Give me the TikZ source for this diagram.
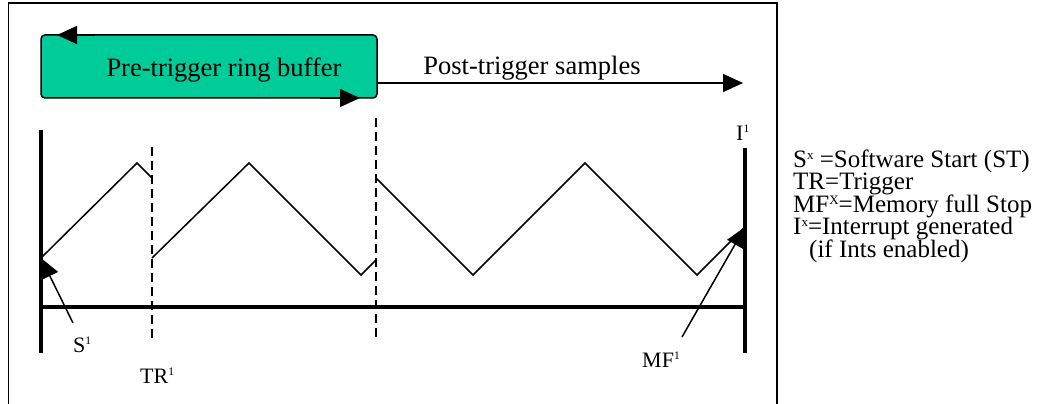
\documentclass[tikz,border=0pt]{standalone}
\usepackage{fontspec}
\setmainfont{Liberation Serif}
\usetikzlibrary{arrows.meta}
\definecolor{buffergreen}{RGB}{0,204,153}

% small raised index, as in S1, TR1, MFX
\newcommand{\evsup}[1]{\raisebox{0.32em}{\scalebox{0.52}{#1}}}
% legend lines sit closer than the font asks for
\newcommand{\legendfont}{\fontsize{25}{22.5}\selectfont\lineskiplimit=-8pt\relax}

\tikzset{
  tip/.style={-{Triangle[length=20pt,width=18pt]}},
  thinline/.style={line width=1.5pt},
  thickline/.style={line width=4pt},
  marker/.style={line width=1.5pt, dash pattern=on 9pt off 5pt},
  lbl/.style={inner sep=0pt, anchor=base west, font=\fontsize{22}{24}\selectfont},
  legend/.style={inner sep=0pt, align=left, anchor=north west, font=\legendfont},
}

\begin{document}
\begin{tikzpicture}[x=1pt,y=-1pt]
    \useasboundingbox (0,0) rectangle (1053,404);

    % Frame, open at the bottom
    \draw[thinline] (8.5,404) -- (8.5,3) -- (777,3) -- (777,404);

    % Pre-trigger ring buffer
    \node[draw, thinline, fill=buffergreen, rounded corners=4pt, inner sep=0pt,
          minimum width=336pt, minimum height=63pt] (ring) at (209,66.5) {};
    \node[inner sep=0pt, anchor=base, font=\fontsize{26.5}{28}\selectfont] (ringtxt) at (224,77) {Pre-trigger ring buffer};
    \coordinate (ringtopA) at (95,35);
    \coordinate (ringtopB) at (57,35);
    \coordinate (ringbotA) at (320,98);
    \coordinate (ringbotB) at (360,98);
    \draw[thinline, tip] (ringtopA) -- (ringtopB);
    \draw[thinline, tip] (ringbotA) -- (ringbotB);

    % Post-trigger samples
    \coordinate (poststart) at (377,83);
    \coordinate (postend) at (743,83);
    \draw[thinline, tip] (poststart) -- (postend);
    \node[inner sep=0pt, anchor=base, font=\fontsize{26.5}{28}\selectfont] (posttxt) at (532,75) {Post-trigger samples};

    % Time axis and start / stop bars
    \coordinate (startTop) at (41,130);
    \coordinate (startBot) at (41,353);
    \coordinate (stopTop) at (745,148);
    \coordinate (stopBot) at (745,353);
    \draw[thickline] (startTop) -- (startBot);
    \draw[thickline] (stopTop) -- (stopBot);
    \draw[thickline] (41,307) -- (745,307);

    % Trigger markers
    \draw[marker] (152,147) -- (152,340);
    \draw[marker] (376,118) -- (376,340);

    % Signal
    \draw[thinline] (41,258) -- (137,163) -- (152,178);
    \draw[thinline] (152,258) -- (249,163) -- (361,275) -- (376,260);
    \draw[thinline] (376,178) -- (473,275) -- (585,163) -- (697,275) -- (745,227);

    % Event labels
    \node[lbl] (s1) at (73,352) {S\evsup{1}};
    \node[lbl] (tr1) at (140,383) {TR\evsup{1}};
    \node[lbl] (mf1) at (642,367) {MF\evsup{1}};
    \node[lbl] (i1) at (736,140) {I\evsup{1}};
    \coordinate (sfoot) at (73,323);
    \coordinate (stip) at (41,258);
    \coordinate (mffoot) at (682,337);
    \coordinate (mftip) at (745,227);
    \draw[thinline, tip] (sfoot) -- (stip);
    \draw[thinline, tip] (mffoot) -- (mftip);

    % Legend
    \node[legend] (legend) at (793,149.5) {S\evsup{x} =Software Start (ST)\\
        TR=Trigger\\
        MF\evsup{X}=Memory full Stop\\
        I\evsup{x}=Interrupt generated\\
        \hspace*{16pt}(if Ints enabled)};
\end{tikzpicture}
\end{document}
